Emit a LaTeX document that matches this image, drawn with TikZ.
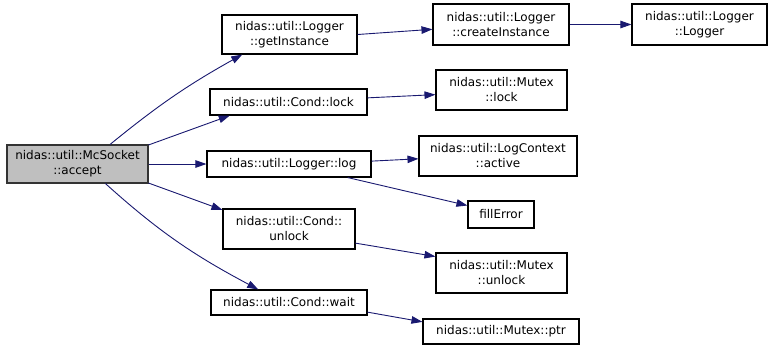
\documentclass[tikz,border=0pt]{standalone}
\usepackage{fontspec}
\setmainfont{DejaVu Sans}
\usetikzlibrary{arrows.meta}
\definecolor{edgeblue}{HTML}{191970}
\definecolor{rootgray}{HTML}{BFBFBF}
\tikzset{
  fn/.style={draw=black, line width=1.1bp, fill=white, inner sep=0pt, align=center,
    font=\fontsize{12bp}{15bp}\selectfont},
  rootfn/.style={fn, fill=rootgray, draw=black!80},
  call/.style={draw=edgeblue, line width=0.9bp,
    -{Triangle[length=11bp, width=7.5bp]}},
}
\begin{document}
\begin{tikzpicture}[x=1bp, y=-1bp]
\useasboundingbox (0,0) rectangle (773,351);

% calling function
\node[rootfn, minimum width=141bp, minimum height=38bp] (accept) at (77.5,164) {nidas::util::McSocket\\::accept};

% first level
\node[fn, minimum width=135bp, minimum height=39bp] (getInst) at (289.5,34.5) {nidas::util::Logger\\::getInstance};
\node[fn, minimum width=157bp, minimum height=26bp] (condLock) at (288.5,102) {nidas::util::Cond::lock};
\node[fn, minimum width=164bp, minimum height=26bp] (log) at (289,164) {nidas::util::Logger::log};
\node[fn, minimum width=132bp, minimum height=40bp] (condUnlock) at (289,229) {nidas::util::Cond::\\unlock};
\node[fn, minimum width=156bp, minimum height=25bp] (condWait) at (289,302.5) {nidas::util::Cond::wait};

% second level
\node[fn, minimum width=136bp, minimum height=41bp] (createInst) at (501,24.5) {nidas::util::Logger\\::createInstance};
\node[fn, minimum width=131bp, minimum height=40bp] (mutexLock) at (501.5,90) {nidas::util::Mutex\\::lock};
\node[fn, minimum width=158bp, minimum height=40bp] (active) at (498,156) {nidas::util::LogContext\\::active};
\node[fn, minimum width=66bp, minimum height=27bp] (fillError) at (501,214.5) {fillError};
\node[fn, minimum width=131bp, minimum height=40bp] (mutexUnlock) at (501.5,273) {nidas::util::Mutex\\::unlock};
\node[fn, minimum width=156bp, minimum height=25bp] (mutexPtr) at (501,331.5) {nidas::util::Mutex::ptr};

% third level
\node[fn, minimum width=135bp, minimum height=41bp] (ctor) at (699.5,24.5) {nidas::util::Logger\\::Logger};

% calls
\draw[call] (accept.31) to[bend left=5] (getInst.203);
\draw[call] (accept.15) -- (condLock.193);
\draw[call] (accept.east) -- (log.west);
\draw[call] (accept.-15) -- (condUnlock.164);
\draw[call] (accept.-35) to[out=-42, in=152] (condWait.157.5);

\draw[call] (getInst.east) -- (createInst.184);
\draw[call] (createInst.east) -- (ctor.west);
\draw[call] (condLock.3) -- (mutexLock.184);
\draw[call] (log.2) -- (active.182);
\draw[call] (log.-13.5) -- (fillError.165.6);
\draw[call] (condUnlock.-12) -- (mutexUnlock.166.5);
\draw[call] (condWait.-7.7) -- (mutexPtr.173.8);
\end{tikzpicture}
\end{document}
